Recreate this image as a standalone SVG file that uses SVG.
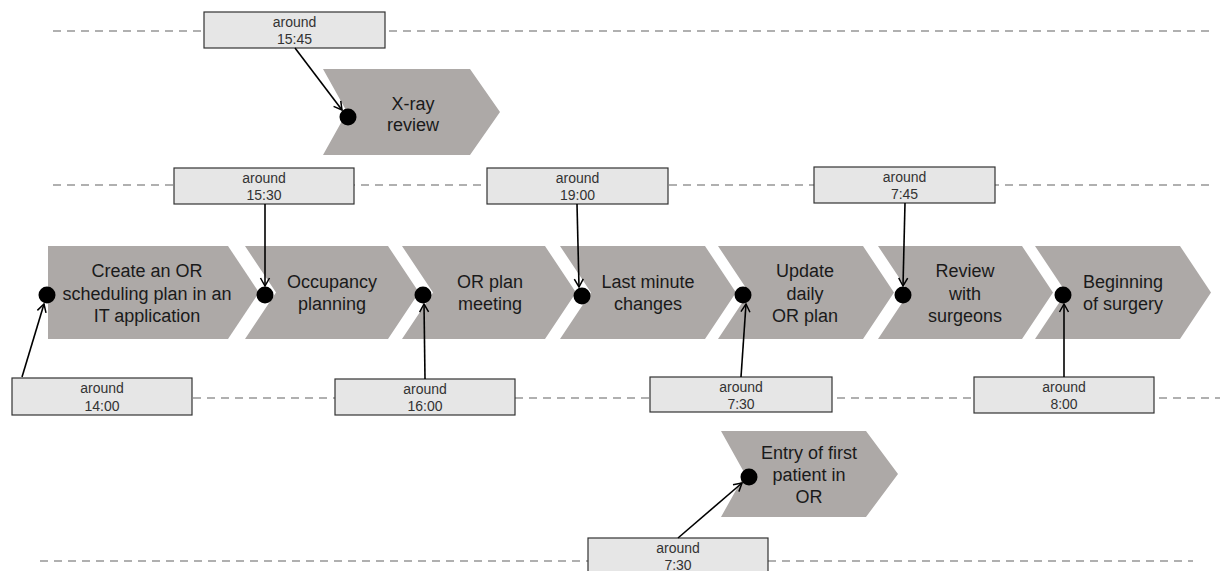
<svg xmlns="http://www.w3.org/2000/svg" width="1220" height="571" viewBox="0 0 1220 571">
  <style>
    .grid { stroke: #b0b0b0; stroke-width: 2; stroke-dasharray: 8 6; fill: none; }
    .step { fill: #ada9a7; }
    .step-text { font-family: "Liberation Sans", Arial, sans-serif; font-size: 18px; fill: #1a1a1a; text-anchor: middle; }
    .time { fill: #e6e6e6; stroke: #333333; stroke-width: 1.2; }
    .time-text { font-family: "Liberation Sans", Arial, sans-serif; font-size: 14px; fill: #333333; text-anchor: middle; }
    .dot { fill: #000000; }
    .link { stroke: #000000; stroke-width: 1.6; fill: none; marker-end: url(#open-arrow); }
  </style>
  <defs>
    <marker id="open-arrow" viewBox="-10 -6 12 12" refX="0" refY="0" markerWidth="12" markerHeight="12" markerUnits="userSpaceOnUse" orient="auto">
      <path d="M-8,-4.5 L0,0 L-8,4.5" fill="none" stroke="#000000" stroke-width="1.5"/>
    </marker>
  </defs>

  <!-- time lanes -->
  <g id="lanes">
    <line class="grid" x1="53" y1="31" x2="1210" y2="31"/>
    <line class="grid" x1="53" y1="185" x2="1210" y2="185"/>
    <line class="grid" x1="53" y1="398" x2="1220" y2="398"/>
    <line class="grid" x1="40" y1="561" x2="1193" y2="561"/>
  </g>

  <!-- process steps -->
  <g id="step-xray">
    <polygon class="step" points="323,69 470,69 500,112 470,155 323,155 347,112"/>
    <text class="step-text" x="413" y="110">X-ray</text>
    <text class="step-text" x="413" y="131">review</text>
    <circle class="dot" cx="348" cy="117" r="8.5"/>
  </g>
  <g id="step-create">
    <polygon class="step" points="48,246 228,246 259,292.5 228,339 48,339"/>
    <text class="step-text" x="147" y="277">Create an OR</text>
    <text class="step-text" x="147" y="300">scheduling plan in an</text>
    <text class="step-text" x="147" y="322">IT application</text>
    <circle class="dot" cx="47" cy="295" r="8.5"/>
  </g>
  <g id="step-occupancy">
    <polygon class="step" points="245,246 388,246 419,292.5 388,339 245,339 276,292.5"/>
    <text class="step-text" x="332" y="288">Occupancy</text>
    <text class="step-text" x="332" y="310">planning</text>
    <circle class="dot" cx="265" cy="295" r="8.5"/>
  </g>
  <g id="step-meeting">
    <polygon class="step" points="402,246 545,246 576,292.5 545,339 402,339 433,292.5"/>
    <text class="step-text" x="490" y="288">OR plan</text>
    <text class="step-text" x="490" y="310">meeting</text>
    <circle class="dot" cx="423" cy="295" r="8.5"/>
  </g>
  <g id="step-changes">
    <polygon class="step" points="560,246 705,246 736,292.5 705,339 560,339 591,292.5"/>
    <text class="step-text" x="648" y="288">Last minute</text>
    <text class="step-text" x="648" y="310">changes</text>
    <circle class="dot" cx="582" cy="296" r="8.5"/>
  </g>
  <g id="step-update">
    <polygon class="step" points="718,246 863,246 894,292.5 863,339 718,339 749,292.5"/>
    <text class="step-text" x="805" y="277">Update</text>
    <text class="step-text" x="805" y="300">daily</text>
    <text class="step-text" x="805" y="322">OR plan</text>
    <circle class="dot" cx="743" cy="295" r="8.5"/>
  </g>
  <g id="step-review">
    <polygon class="step" points="878,246 1022,246 1053,292.5 1022,339 878,339 909,292.5"/>
    <text class="step-text" x="965" y="277">Review</text>
    <text class="step-text" x="965" y="300">with</text>
    <text class="step-text" x="965" y="322">surgeons</text>
    <circle class="dot" cx="903" cy="295" r="8.5"/>
  </g>
  <g id="step-surgery">
    <polygon class="step" points="1035,246 1180,246 1211,292.5 1180,339 1035,339 1066,292.5"/>
    <text class="step-text" x="1123" y="288">Beginning</text>
    <text class="step-text" x="1123" y="310">of surgery</text>
    <circle class="dot" cx="1063" cy="295" r="8.5"/>
  </g>
  <g id="step-entry">
    <polygon class="step" points="721,431 866,431 898,474 866,517 721,517 745,474"/>
    <text class="step-text" x="809" y="459">Entry of first</text>
    <text class="step-text" x="809" y="481">patient in</text>
    <text class="step-text" x="809" y="503">OR</text>
    <circle class="dot" cx="749" cy="477" r="8.5"/>
  </g>

  <!-- time labels -->
  <g id="time-1545">
    <rect class="time" x="204" y="12" width="181" height="36"/>
    <text class="time-text" x="294.5" y="26.5">around</text>
    <text class="time-text" x="294.5" y="44">15:45</text>
  </g>
  <g id="time-1530">
    <rect class="time" x="174" y="168" width="180" height="36"/>
    <text class="time-text" x="264" y="182.5">around</text>
    <text class="time-text" x="264" y="200">15:30</text>
  </g>
  <g id="time-1900">
    <rect class="time" x="487" y="168" width="181" height="36"/>
    <text class="time-text" x="577.5" y="182.5">around</text>
    <text class="time-text" x="577.5" y="200">19:00</text>
  </g>
  <g id="time-0745">
    <rect class="time" x="814" y="167" width="181" height="36"/>
    <text class="time-text" x="904.5" y="181.5">around</text>
    <text class="time-text" x="904.5" y="199">7:45</text>
  </g>
  <g id="time-1400">
    <rect class="time" x="12" y="378" width="180" height="37"/>
    <text class="time-text" x="102" y="393">around</text>
    <text class="time-text" x="102" y="410.5">14:00</text>
  </g>
  <g id="time-1600">
    <rect class="time" x="335" y="379" width="180" height="36"/>
    <text class="time-text" x="425" y="393.5">around</text>
    <text class="time-text" x="425" y="411">16:00</text>
  </g>
  <g id="time-0730-update">
    <rect class="time" x="650" y="377" width="182" height="35"/>
    <text class="time-text" x="741" y="391.5">around</text>
    <text class="time-text" x="741" y="409">7:30</text>
  </g>
  <g id="time-0800">
    <rect class="time" x="974" y="377" width="180" height="36"/>
    <text class="time-text" x="1064" y="391.5">around</text>
    <text class="time-text" x="1064" y="409">8:00</text>
  </g>
  <g id="time-0730-entry">
    <rect class="time" x="588" y="538" width="180" height="40"/>
    <text class="time-text" x="678" y="552.5">around</text>
    <text class="time-text" x="678" y="570">7:30</text>
  </g>

  <!-- connectors from time labels to step events -->
  <g id="connectors">
    <line class="link" x1="295" y1="48" x2="342" y2="110"/>
    <line class="link" x1="265" y1="204" x2="265" y2="286"/>
    <line class="link" x1="577" y1="204" x2="579" y2="287"/>
    <line class="link" x1="905" y1="203" x2="903" y2="286"/>
    <line class="link" x1="22" y1="377" x2="44" y2="304"/>
    <line class="link" x1="425" y1="379" x2="424" y2="304"/>
    <line class="link" x1="741" y1="377" x2="746" y2="304"/>
    <line class="link" x1="1064" y1="377" x2="1064" y2="304"/>
    <line class="link" x1="678" y1="538" x2="742" y2="483"/>
  </g>
</svg>
